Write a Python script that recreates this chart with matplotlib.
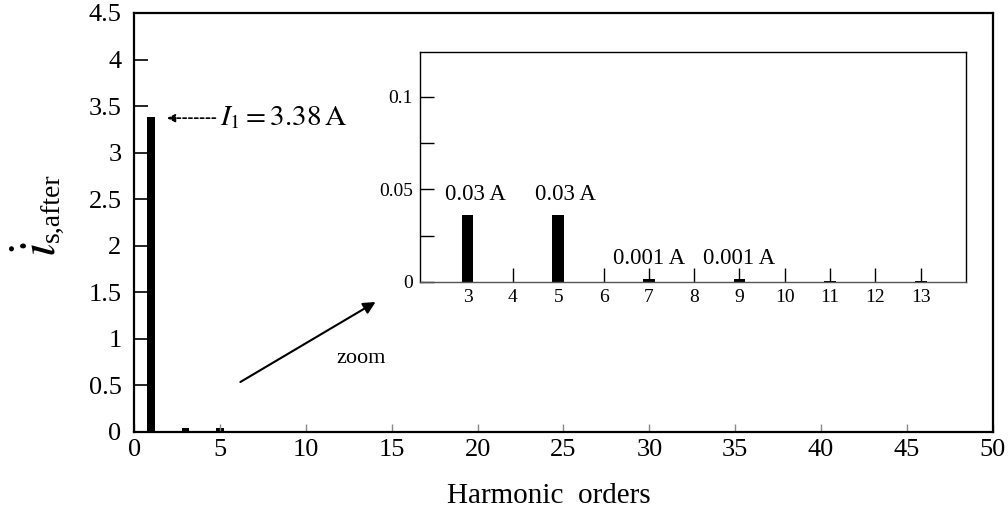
import numpy as np
import matplotlib
matplotlib.use('Agg')
import matplotlib.pyplot as plt

plt.rcParams['font.family'] = ['Liberation Serif', 'DejaVu Serif']
plt.rcParams['mathtext.fontset'] = 'stix'

# harmonic spectrum of source current after compensation
orders = [1, 3, 5, 7, 9, 11, 13]
i_s_after = [3.38, 0.036, 0.036, 0.0015, 0.0015, 0.0003, 0.0003]

# labels above the harmonics in the zoomed view
zoom_orders = [3, 5, 7, 9]
zoom_labels = ['0.03 A', '0.03 A', '0.001 A', '0.001 A']

main_xticks = list(range(0, 51, 5))
main_yticks = [0, 0.5, 1, 1.5, 2, 2.5, 3, 3.5, 4, 4.5]
inset_xticks = list(range(3, 14))
inset_yticks = [0, 0.05, 0.1]

W, H = 1008, 519
fig = plt.figure(figsize=(W / 100, H / 100), dpi=100)
ax = fig.add_axes([0.133, 0.168, 0.852, 0.807])

ax.bar(orders, i_s_after, width=0.45, color='black')
ax.set_xlim(0, 50)
ax.set_ylim(0, 4.5)
ax.set_xticks(main_xticks)
ax.set_yticks(main_yticks)
ax.set_yticklabels(['%g' % v for v in main_yticks])
ax.tick_params(axis='y', direction='in', length=10, width=1.2, labelsize=19, pad=9)
ax.tick_params(axis='x', direction='in', length=6, width=1, color='#888888',
               labelsize=19, pad=5)
for s in ax.spines.values():
    s.set_linewidth(1.6)

ax.set_xlabel('Harmonic  orders', fontsize=21)
ax.xaxis.set_label_coords(0.483, -0.123)

# y label: big dotted italic i with a subscript, drawn as two rotated texts
fig.text(55 / W, 1 - 257 / H, r'$\dot{i}$', fontsize=37, rotation=90,
         rotation_mode='anchor', ha='left', va='baseline')
fig.text(60 / W, 1 - 242 / H, 's,after', fontsize=20, rotation=90,
         rotation_mode='anchor', ha='left', va='baseline')

# fundamental annotation
ax.annotate('', xy=(1.75, 3.37), xytext=(4.9, 3.37),
            arrowprops=dict(arrowstyle='-|>', linestyle=(0, (2, 1.5)), lw=1.2,
                            color='black', mutation_scale=12))
ax.text(5.0, 3.37, r'$I_1 = 3.38\,\mathrm{A}$', fontsize=21, va='center', ha='left')

# zoom arrow
ax.annotate('', xy=(14.2, 1.41), xytext=(6.05, 0.52),
            arrowprops=dict(arrowstyle='-|>', lw=1.5, color='black', mutation_scale=18))
ax.text(11.8, 0.79, 'zoom', fontsize=16, va='center', ha='left')

# inset with the low harmonics
axin = fig.add_axes([420 / W, 1 - 282 / H, 546 / W, 230 / H])
axin.bar(orders, i_s_after, width=0.26, color='black')
axin.set_xlim(1.95, 14)
axin.set_ylim(0, 0.124)
axin.set_xticks(inset_xticks)
axin.set_yticks(inset_yticks)
axin.set_yticks([0.025, 0.075], minor=True)
axin.set_yticklabels(['0', '0.05', '0.1'])
axin.tick_params(axis='y', which='both', direction='in', length=10, width=1,
                 labelsize=14, pad=5)
axin.tick_params(axis='x', direction='in', length=10, width=1, labelsize=14, pad=5)
for s in axin.spines.values():
    s.set_linewidth(1)
axin.spines['bottom'].set_color('#555555')

for o, lab in zip(zoom_orders, zoom_labels):
    h = i_s_after[orders.index(o)]
    dx = 0.17 if h > 0.01 else 0
    axin.text(o + dx, h + 0.0055, lab, fontsize=16.5, ha='center', va='bottom')

fig.savefig('out.png', dpi=100)
